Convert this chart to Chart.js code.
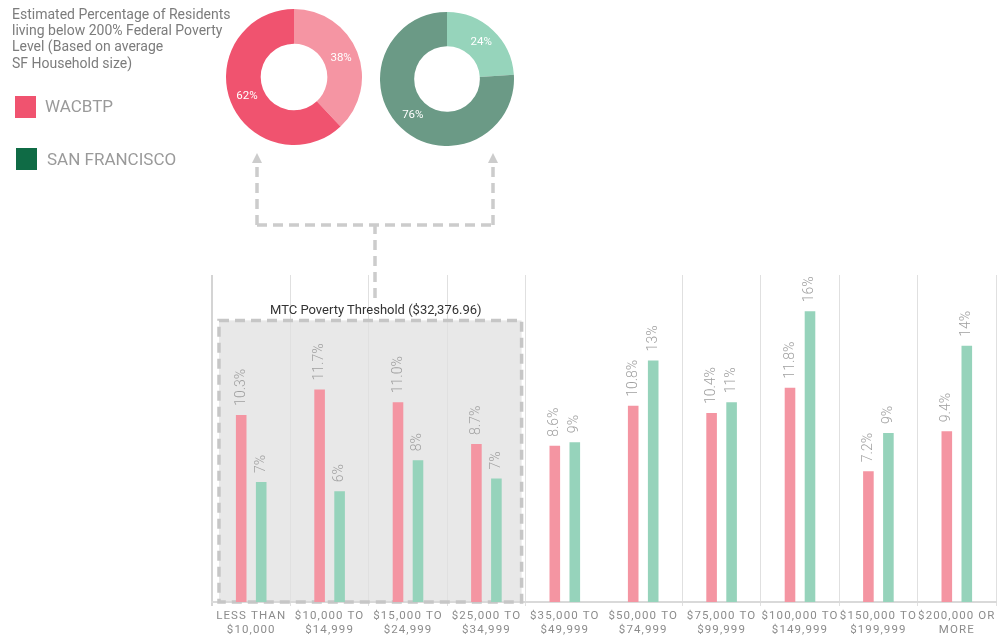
<!DOCTYPE html>
<html>
<head>
<meta charset="utf-8">
<script src="https://cdn.jsdelivr.net/npm/chart.js@4/dist/chart.umd.min.js"></script>
<style>
  body { margin: 0; background: #fff; font-family: Roboto, "Liberation Sans", sans-serif; }
  #wrap { position: relative; width: 997px; height: 636px; overflow: hidden; }
  canvas { position: absolute; }
  .txt { position: absolute; white-space: nowrap; }
  #title { left: 12px; top: 6px; font-size: 14px; line-height: 16.2px; color: #7c7c7c; }
  .sq { position: absolute; width: 21px; height: 22px; }
  .leg { font-size: 17px; color: #9a9a9a; }
  #boxTitle { left: 270px; top: 302px; font-size: 13px; color: #333; }
</style>
</head>
<body>
<div id="wrap">
  <canvas id="bars" width="997" height="636" style="left:0;top:0"></canvas>
  <canvas id="donutA" width="136" height="136" style="left:226px;top:9px"></canvas>
  <canvas id="donutB" width="134" height="134" style="left:380px;top:12px"></canvas>
  <div id="title" class="txt">Estimated Percentage of Residents<br>living below 200% Federal Poverty<br>Level (Based on average<br>SF Household size)</div>
  <div class="sq" style="left:15px;top:96px;background:#f0536f"></div>
  <div class="txt leg" style="left:45px;top:96px">WACBTP</div>
  <div class="sq" style="left:16px;top:148px;background:#0f6b45"></div>
  <div class="txt leg" style="left:47px;top:149px">SAN FRANCISCO</div>
  <div id="boxTitle" class="txt">MTC Poverty Threshold ($32,376.96)</div>
</div>
<script>
// income brackets
const categories = [
  ["LESS THAN", "$10,000"], ["$10,000 TO", "$14,999"], ["$15,000 TO", "$24,999"],
  ["$25,000 TO", "$34,999"], ["$35,000 TO", "$49,999"], ["$50,000 TO", "$74,999"],
  ["$75,000 TO", "$99,999"], ["$100,000 TO", "$149,999"], ["$150,000 TO", "$199,999"],
  ["$200,000 OR", "MORE"]
];
const wacbtp = [10.3, 11.7, 11.0, 8.7, 8.6, 10.8, 10.4, 11.8, 7.2, 9.4];
const sanFrancisco = [6.6, 6.1, 7.8, 6.8, 8.8, 13.3, 11.0, 16.0, 9.3, 14.1];

// share below 200% poverty level
const donutLabels = ["Below 200% FPL", "Other"];
const wacbtpShare = [38, 62];
const sfShare = [24, 76];

const PINK = "#f495a2", GREEN = "#96d3bb";

const overlay = {
  id: "overlay",
  beforeDraw(chart) {
    const ctx = chart.ctx, x = chart.scales.x, y = chart.scales.y;
    const half = (x.getPixelForTick(1) - x.getPixelForTick(0)) / 2;
    const l = x.getPixelForTick(0) - half + 7, r = x.getPixelForTick(3) + half - 4;
    const t = y.getPixelForValue(15.5), b = y.getPixelForValue(0);
    ctx.fillStyle = "#e8e8e8";
    ctx.fillRect(l, t, r - l, b - t);
    chart.$box = { l, r, t, b };
    ctx.letterSpacing = "1.1px";
  },
  beforeDatasetsDraw(chart) {
    const ctx = chart.ctx, bx = chart.$box;
    ctx.save();
    ctx.letterSpacing = "0px";
    ctx.strokeStyle = "#c6c6c6";
    ctx.lineWidth = 3.5;
    ctx.setLineDash([10, 6]);
    ctx.strokeRect(bx.l, bx.t, bx.r - bx.l, bx.b - bx.t);
    ctx.restore();
  },
  afterDatasetsDraw(chart) {
    const ctx = chart.ctx;
    ctx.save();
    ctx.letterSpacing = "0px";
    ctx.fillStyle = "#a0a0a0";
    ctx.font = "300 14px Roboto";
    ctx.textAlign = "left";
    ctx.textBaseline = "middle";
    chart.data.datasets.forEach((ds, di) => {
      chart.getDatasetMeta(di).data.forEach((bar, i) => {
        const v = ds.data[i];
        const txt = di === 0 ? v.toFixed(1) + "%" : Math.round(v) + "%";
        ctx.save();
        ctx.translate(bar.x, bar.y - 9);
        ctx.rotate(-Math.PI / 2);
        ctx.fillText(txt, 0, 0);
        ctx.restore();
      });
    });
    // dashed connector up to the donuts
    ctx.strokeStyle = "#cccccc";
    ctx.lineWidth = 3.5;
    ctx.setLineDash([10, 6]);
    ctx.beginPath();
    ctx.moveTo(375, 298); ctx.lineTo(375, 225);
    ctx.moveTo(257, 225); ctx.lineTo(493, 225);
    ctx.moveTo(257, 225); ctx.lineTo(257, 162);
    ctx.moveTo(493, 225); ctx.lineTo(493, 162);
    ctx.stroke();
    ctx.setLineDash([]);
    ctx.fillStyle = "#cccccc";
    [257, 493].forEach(ax => {
      ctx.beginPath();
      ctx.moveTo(ax, 153); ctx.lineTo(ax - 5, 163); ctx.lineTo(ax + 5, 163);
      ctx.closePath(); ctx.fill();
    });
    ctx.restore();
  }
};

new Chart(document.getElementById("bars"), {
  type: "bar",
  data: {
    labels: categories,
    datasets: [
      { label: "WACBTP", data: wacbtp, backgroundColor: PINK, categoryPercentage: 0.51, barPercentage: 0.53 },
      { label: "San Francisco", data: sanFrancisco, backgroundColor: GREEN, categoryPercentage: 0.51, barPercentage: 0.53 }
    ]
  },
  options: {
    responsive: false,
    animation: false,
    devicePixelRatio: 1,
    layout: { padding: { left: 212, top: 275, right: 1, bottom: 0 } },
    plugins: { legend: { display: false }, tooltip: { enabled: false } },
    scales: {
      x: {
        grid: {
          offset: true,
          color: c => c.index === 5 ? "rgba(0,0,0,0)" : (c.index === 0 ? "#d4d4d4" : "#e0e0e0"),
          lineWidth: c => c.index === 0 ? 2 : 1,
          tickLength: 4
        },
        border: { color: "#d9d9d9", width: 2 },
        ticks: {
          color: "#8c8c8c",
          font: { family: "Roboto", size: 11.5 },
          padding: 3,
          autoSkip: false,
          maxRotation: 0
        },
        afterFit: s => { s.height = 34; }
      },
      y: { display: false, min: 0, max: 18 }
    }
  },
  plugins: [overlay]
});

const donutText = {
  id: "donutText",
  afterDatasetsDraw(chart) {
    const ctx = chart.ctx;
    ctx.save();
    ctx.fillStyle = "#fff";
    ctx.font = "11.5px Roboto";
    ctx.textAlign = "center";
    ctx.textBaseline = "middle";
    chart.getDatasetMeta(0).data.forEach((arc, i) => {
      const p = arc.tooltipPosition();
      ctx.fillText(chart.data.datasets[0].data[i] + "%", p.x, p.y);
    });
    ctx.restore();
  }
};

function donut(id, values, colors) {
  new Chart(document.getElementById(id), {
    type: "doughnut",
    data: { labels: donutLabels, datasets: [{ data: values, backgroundColor: colors, borderWidth: 0 }] },
    options: {
      responsive: false,
      animation: false,
      devicePixelRatio: 1,
      cutout: "49%",
      plugins: { legend: { display: false }, tooltip: { enabled: false } }
    },
    plugins: [donutText]
  });
}
donut("donutA", wacbtpShare, ["#f595a3", "#f0536f"]);
donut("donutB", sfShare, ["#96d4bb", "#6b9a86"]);
</script>
</body>
</html>
